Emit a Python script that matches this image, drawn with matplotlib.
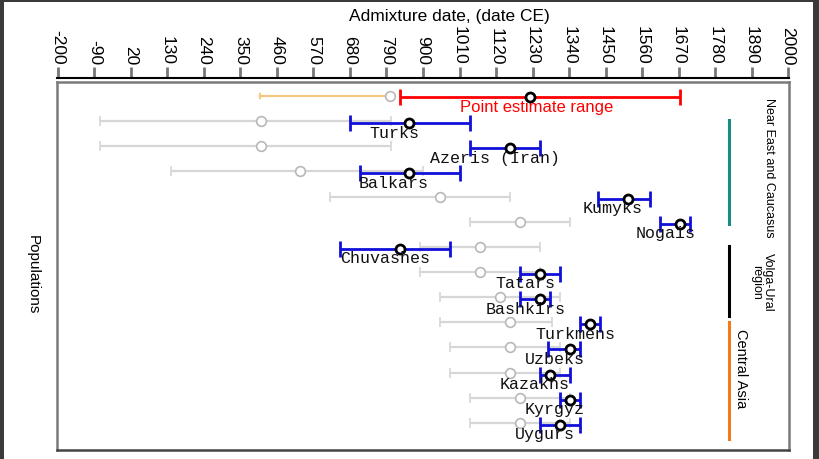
import matplotlib
matplotlib.use("Agg")
import matplotlib.pyplot as plt
from matplotlib.patches import Rectangle

plt.rcParams['font.family'] = ['Liberation Sans', 'DejaVu Sans']

# populations, top to bottom (row 0 is the key row)
populations = ["Turks", "Azeris (Iran)", "Balkars", "Kumyks", "Nogais",
               "Chuvashes", "Tatars", "Bashkirs", "Turkmens", "Uzbeks",
               "Kazakhs", "Kyrgyz", "Uygurs"]

# grey ranges (older estimate): low, point, high  (years CE)
grey_low = [-73, -73, 141, 620, 1042, 891, 891, 951, 951, 981, 981, 1042, 1042]
grey_mid = [412, 412, 529, 951, 1192, 1072, 1072, 1132, 1162, 1162, 1162, 1192, 1192]
grey_high = [804, 804, 900, 1162, 1343, 1253, 1253, 1313, 1289, 1313, 1313, 1343, 1343]

# blue ranges (admixture date): low, point, high
blue_low = [680, 1042, 710, 1427, 1614, 650, 1192, 1192, 1373, 1277, 1253, 1313, 1253]
blue_mid = [858, 1162, 858, 1518, 1675, 831, 1253, 1253, 1403, 1343, 1283, 1343, 1313]
blue_high = [1042, 1253, 1012, 1584, 1705, 981, 1313, 1283, 1433, 1373, 1343, 1373, 1373]

# key row
key_orange = [409, 801]
key_red = [831, 1222, 1675]

# regions: name, first row, last row
regions = ["Near East and Caucasus", "Volga-Ural\nregion", "Central Asia"]
region_rows = [(1, 5), (6, 8), (9, 13)]
region_colors = ["#1a8a86", "black", "#f07a1e"]

ticks = list(range(-200, 2001, 110))

fig = plt.figure(figsize=(8.19, 4.60), dpi=100)
fig.set_facecolor("#3a3a3a")
fig.add_artist(Rectangle((4 / 819, 0), 809 / 819, 457 / 460,
                         transform=fig.transFigure, facecolor="white",
                         edgecolor="none", zorder=-1))

ax = fig.add_axes([57 / 819, 1 - 451 / 460, 732 / 819, 368 / 460])
ax.set_xlim(-203, 2003)
ax.set_ylim(14.08, -0.557)
ax.set_xticks([])
ax.set_yticks([])
for s in ax.spines.values():
    s.set_color("#7a7a7a")
    s.set_linewidth(1.8)
ax.spines['bottom'].set_color("#444444")

# key row
ax.plot(key_orange, [0, 0], color="#f8c77e", lw=1.5, zorder=2)
ax.plot([key_orange[0]] * 2, [-0.06, 0.06], color="#f8c77e", lw=1.5)
ax.plot(key_orange[1], 0, 'o', ms=7, mfc="white", mec="#b8b8b8", mew=1.2, zorder=3)
ax.errorbar(key_red[1], 0.05, xerr=[[key_red[1] - key_red[0]], [key_red[2] - key_red[1]]],
            fmt='o', ms=6.5, mfc="white", mec="black", mew=2, ecolor="red",
            elinewidth=2, capsize=6, capthick=2, zorder=4)
ax.text(1243, 0.42, "Point estimate range", color="red", fontsize=12,
        ha="center", va="center")

for i, name in enumerate(populations):
    y = i + 1
    ax.errorbar(grey_mid[i], y, xerr=[[grey_mid[i] - grey_low[i]], [grey_high[i] - grey_mid[i]]],
                fmt='o', ms=7, mfc="white", mec="#b8b8b8", mew=1.2, ecolor="#d6d6d6",
                elinewidth=1.6, capsize=3.5, capthick=1.2, zorder=2)
    ax.errorbar(blue_mid[i], y + 0.08, xerr=[[blue_mid[i] - blue_low[i]], [blue_high[i] - blue_mid[i]]],
                fmt='o', ms=6.5, mfc="white", mec="black", mew=2, ecolor="#1010d8",
                elinewidth=2, capsize=6, capthick=2.2, zorder=4)
    ax.annotate(name, (blue_mid[i], y), xytext=(-15, -11), textcoords="offset pixels",
                ha="center", va="center", fontsize=12, family="Liberation Mono",
                color="#111111", zorder=5)

# region markers on the right
line_pad = [0.09, 0.75, 0.64]
text_x = [1943, 1922, 1858]
text_y = [2.82, 7.36, 10.8]
text_size = [9, 9, 10.5]
for name, (r0, r1), c, pad, tx, ty, fs in zip(regions, region_rows, region_colors,
                                              line_pad, text_x, text_y, text_size):
    ax.plot([1822, 1822], [r0 - 0.03, r1 + pad], color=c, lw=2.2)
    ax.text(tx, ty, name, rotation=270, ha="center", va="center",
            fontsize=fs, linespacing=1.0)

ax.text(-0.033, 0.48, "Populations", rotation=270, transform=ax.transAxes,
        ha="center", va="center", fontsize=11)

# date axis, set slightly above the box
sec = ax.secondary_xaxis(1.011)
sec.set_xticks(ticks)
sec.set_xticklabels([str(t) for t in ticks], rotation=270, fontsize=12.5)
sec.tick_params(axis='x', length=8, width=2, color="#777777", pad=2)
sec.spines['top'].set_color("black")
sec.spines['top'].set_linewidth(1.5)

fig.text(449 / 819, 1 - 16 / 460, "Admixture date, (date CE)", ha="center",
         va="center", fontsize=12.5)

fig.savefig("out.png", dpi=100, facecolor=fig.get_facecolor())
